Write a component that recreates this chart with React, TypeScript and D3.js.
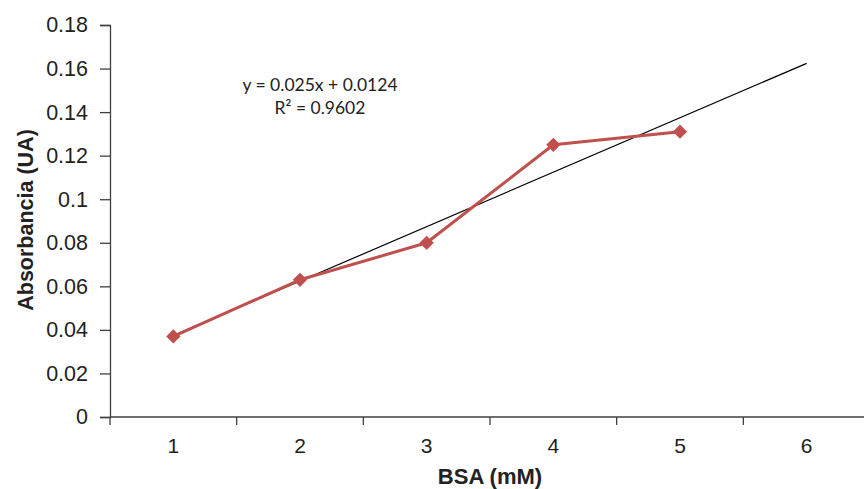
import React, { useEffect, useRef } from "react";
import * as d3 from "d3";

const categories = [1, 2, 3, 4, 5, 6];
const absorbance = [0.037, 0.063, 0.08, 0.125, 0.131];
const yTicks = [0, 0.02, 0.04, 0.06, 0.08, 0.1, 0.12, 0.14, 0.16, 0.18];
const slope = 0.025;
const intercept = 0.0124;
const equationLines = ["y = 0.025x + 0.0124", "R² = 0.9602"];

const width = 864;
const height = 489;

const App = () => {
  const ref = useRef<SVGSVGElement>(null);

  useEffect(() => {
    const svg = d3.select(ref.current);
    svg.selectAll("*").remove();

    const left = 110;
    const right = 870;
    const top = 25;
    const bottom = 417;

    const x = d3
      .scaleBand<number>()
      .domain(categories)
      .range([left, right])
      .padding(0);

    const y = d3.scaleLinear().domain([0, 0.18]).range([bottom, top]);

    const cx = (d: number) => (x(d) as number) + x.bandwidth() / 2;
    const axisColor = "#3f3f3f";
    const font = "Liberation Sans, Arial, sans-serif";

    // y axis
    const gy = svg
      .append("g")
      .attr("transform", `translate(${left},0)`)
      .call(
        d3
          .axisLeft(y)
          .tickValues(yTicks)
          .tickSize(10)
          .tickPadding(12)
          .tickFormat((d) => String(+(+d).toFixed(2)))
      );
    gy.select(".domain").attr("stroke", axisColor).attr("stroke-width", 1.3);
    gy.selectAll(".tick line").attr("stroke", axisColor).attr("stroke-width", 1.3);
    gy.selectAll(".tick text")
      .attr("fill", "#222")
      .attr("font-family", font)
      .attr("font-size", 21.5);

    // x axis, ticks between categories
    const gx = svg.append("g").attr("transform", `translate(0,${bottom})`);
    gx.append("line")
      .attr("x1", left)
      .attr("x2", right)
      .attr("stroke", axisColor)
      .attr("stroke-width", 1.3);
    gx.selectAll("line.tk")
      .data(categories)
      .join("line")
      .attr("class", "tk")
      .attr("x1", (d) => x(d) as number)
      .attr("x2", (d) => x(d) as number)
      .attr("y1", 0)
      .attr("y2", 8)
      .attr("stroke", axisColor)
      .attr("stroke-width", 1.3);
    gx.selectAll("text")
      .data(categories)
      .join("text")
      .attr("x", cx)
      .attr("y", 36)
      .attr("text-anchor", "middle")
      .attr("fill", "#222")
      .attr("font-family", font)
      .attr("font-size", 21)
      .text((d) => d);

    // linear trendline
    const x0 = categories[0];
    const x1 = categories[categories.length - 1];
    svg
      .append("line")
      .attr("x1", cx(x0))
      .attr("y1", y(slope * x0 + intercept))
      .attr("x2", cx(x1))
      .attr("y2", y(slope * x1 + intercept))
      .attr("stroke", "#000")
      .attr("stroke-width", 1.2);

    // data series
    const pts = absorbance.map((v, i) => ({ c: categories[i], v }));
    svg
      .append("path")
      .datum(pts)
      .attr("fill", "none")
      .attr("stroke", "#c0504d")
      .attr("stroke-width", 3)
      .attr("stroke-linejoin", "round")
      .attr(
        "d",
        d3
          .line<{ c: number; v: number }>()
          .x((d) => cx(d.c))
          .y((d) => y(d.v))
      );

    svg
      .selectAll("path.marker")
      .data(pts)
      .join("path")
      .attr("class", "marker")
      .attr("transform", (d) => `translate(${cx(d.c)},${y(d.v)})`)
      .attr("d", d3.symbol().type(d3.symbolDiamond2).size(130))
      .attr("fill", "#c0504d");

    // equation label
    svg
      .append("g")
      .selectAll("text")
      .data(equationLines)
      .join("text")
      .attr("x", 320)
      .attr("y", (d, i) => 91 + i * 23)
      .attr("text-anchor", "middle")
      .attr("font-family", "Lato, Open Sans, sans-serif")
      .attr("font-size", 17.5)
      .attr("fill", "#222")
      .text((d) => d);

    // axis titles
    svg
      .append("text")
      .attr("transform", `translate(33,220) rotate(-90)`)
      .attr("text-anchor", "middle")
      .attr("font-family", font)
      .attr("font-weight", "bold")
      .attr("font-size", 21.5)
      .attr("fill", "#222")
      .text("Absorbancia (UA)");

    svg
      .append("text")
      .attr("x", 490)
      .attr("y", 484)
      .attr("text-anchor", "middle")
      .attr("font-family", font)
      .attr("font-weight", "bold")
      .attr("font-size", 22)
      .attr("fill", "#222")
      .text("BSA (mM)");
  }, []);

  return (
    <svg
      ref={ref}
      width={width}
      height={height}
      style={{ position: "absolute", left: 0, top: 0, background: "#fff" }}
    />
  );
};

export default App;
